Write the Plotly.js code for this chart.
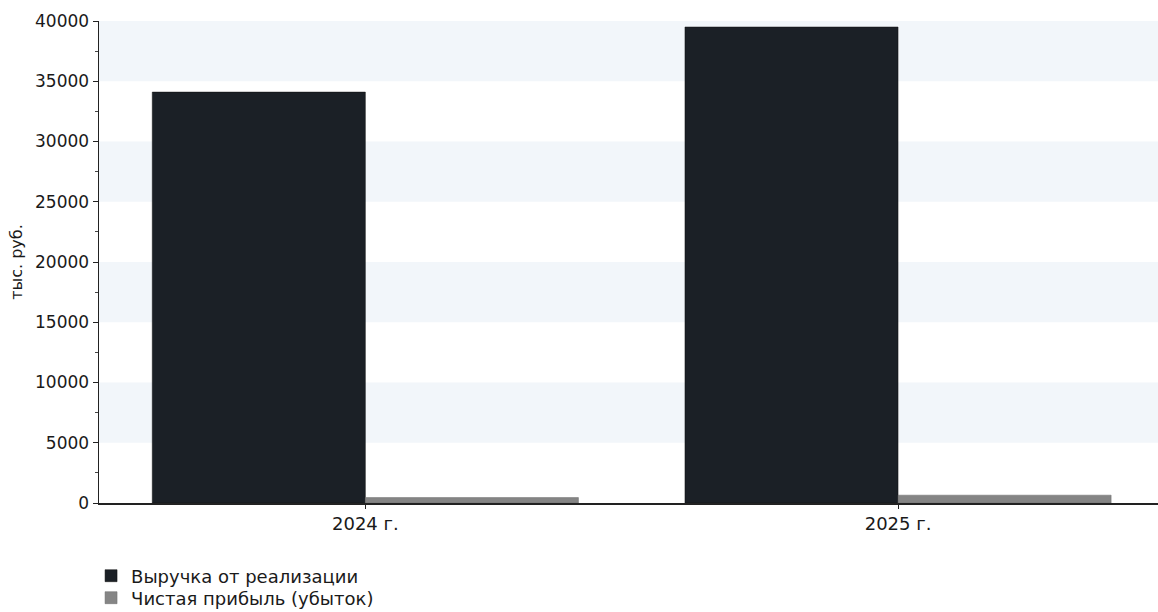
<!DOCTYPE html>
<html>
<head>
<meta charset="utf-8">
<script src="https://cdn.plot.ly/plotly-3.0.1.min.js"></script>
<style>
html,body{margin:0;padding:0;background:#fff;overflow:hidden;}
#chart{width:1158px;height:612px;}
</style>
</head>
<body>
<div id="chart"></div>
<script>
const categories = ["2024 г.", "2025 г."];
const seriesNames = ["Выручка от реализации", "Чистая прибыль (убыток)"];
const revenue = [34100, 39500];
const profit = [450, 650];
const yTicks = [0, 5000, 10000, 15000, 20000, 25000, 30000, 35000, 40000];

const font = "DejaVu Sans, Verdana, sans-serif";

const traces = [
  {type: "bar", name: seriesNames[0], x: categories, y: revenue, legend: "legend",
   marker: {color: "#1b2026", line: {color: "#111", width: 0.5}}},
  {type: "bar", name: seriesNames[1], x: categories, y: profit, legend: "legend2",
   marker: {color: "#858585", line: {color: "#6a6a6a", width: 0.5}}}
];

// alternating light bands between gridline ticks (top band first)
const shapes = [];
for (let i = yTicks.length - 1; i > 0; i -= 2) {
  shapes.push({type: "rect", xref: "paper", yref: "y", x0: 0, x1: 1,
    y0: yTicks[i - 1], y1: yTicks[i], fillcolor: "#f2f6fa", line: {width: 0}, layer: "below"});
}

const plotTop = 21, plotBottom = 503, plotH = plotBottom - plotTop;
const legendBase = {orientation: "v", x: -0.0075, xanchor: "left", yanchor: "middle",
  font: {family: font, size: 18, color: "#1a1a1a"}, bgcolor: "rgba(0,0,0,0)",
  borderwidth: 0, itemclick: false};

const layout = {
  width: 1158, height: 612,
  margin: {l: 99, r: 0, t: plotTop, b: 612 - plotBottom, autoexpand: false},
  paper_bgcolor: "#fff", plot_bgcolor: "#fff",
  barmode: "group", bargap: 0.2, bargroupgap: 0,
  font: {family: font, size: 16, color: "#1a1a1a"},
  xaxis: {type: "category", range: [-0.5, 1.488], showgrid: false, zeroline: false,
    showline: true, linecolor: "#222", linewidth: 1.5,
    ticks: "outside", ticklen: 4, tickcolor: "#222",
    tickfont: {family: font, size: 18, color: "#1a1a1a"}},
  yaxis: {range: [0, 40000], tickvals: yTicks, ticktext: yTicks.map(String),
    showgrid: false, zeroline: false, showline: true, linecolor: "#222", linewidth: 1.5,
    ticks: "outside", ticklen: 5, tickcolor: "#222",
    minor: {dtick: 2500, ticks: "outside", ticklen: 3, tickcolor: "#444", showgrid: false},
    tickfont: {family: font, size: 17, color: "#1a1a1a"},
    title: {text: "тыс. руб.", font: {family: font, size: 16, color: "#1a1a1a"}, standoff: 8}},
  shapes: shapes,
  showlegend: true,
  legend: Object.assign({}, legendBase, {y: (plotBottom - 576) / plotH}),
  legend2: Object.assign({}, legendBase, {y: (plotBottom - 598) / plotH})
};

Plotly.newPlot("chart", traces, layout, {displayModeBar: false, staticPlot: true});
</script>
</body>
</html>
